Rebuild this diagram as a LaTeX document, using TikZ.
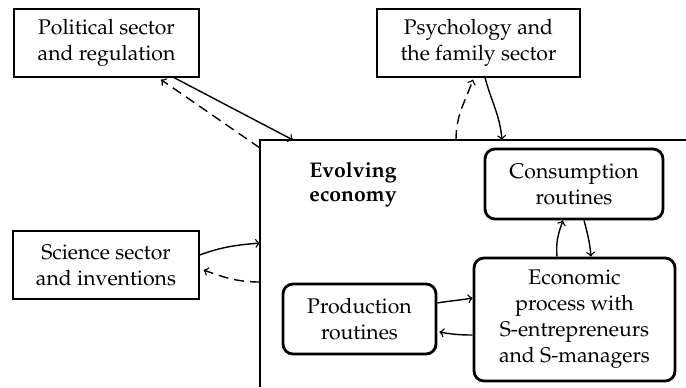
\documentclass[tikz,border=0pt]{standalone}
\usepackage[T1]{fontenc}
\usepackage{mathpazo}
\begin{document}
\begin{tikzpicture}[x=0.5pt,y=-0.5pt,
  every node/.style={font=\fontsize{10.6}{13}\selectfont},
  plainbox/.style={draw,line width=0.6pt,inner sep=0pt,align=center},
  routbox/.style={draw,line width=1.4pt,rounded corners=5pt,inner sep=0pt,align=center},
  conn/.style={line width=0.7pt,->,>=to},
  dconn/.style={conn,dash pattern=on 5pt off 3pt}]
\useasboundingbox (0,0) rectangle (686,387);
% outer boxes
\node[plainbox,minimum width=92.5pt,minimum height=34pt] (pol) at (106.5,43) {Political sector\\and regulation};
\node[plainbox,minimum width=101.5pt,minimum height=34pt] (psy) at (478.5,43) {Psychology and\\the family sector};
\node[plainbox,minimum width=93pt,minimum height=34pt] (sci) at (106,265) {Science sector\\and inventions};
% evolving economy (clipped box)
\coordinate (bbl) at (260,387);
\coordinate (btl) at (260,140);
\coordinate (btr) at (686,140);
\draw[line width=0.6pt] (bbl) -- (btl) -- (btr);
\node[anchor=north west,inner sep=0pt,align=left,font=\fontsize{10.6}{12}\selectfont\bfseries] (evo) at (309,162) {Evolving\\economy};
% inner boxes
\node[routbox,minimum width=76.5pt,minimum height=35pt] (prod) at (359.5,319) {Production\\routines};
\node[routbox,minimum width=89pt,minimum height=35pt] (cons) at (574,184) {Consumption\\routines};
\node[routbox,minimum width=100.5pt,minimum height=61.5pt] (econ) at (574.5,319.5) {Economic\\process with\\S-entrepreneurs\\and S-managers};
% connectors
\draw[conn] ([xshift=33.75pt]pol.south) -- ([xshift=16.5pt]btl);
\draw[dconn] ([yshift=-4pt]btl) -- ([xshift=27.25pt,yshift=-1pt]pol.south);
\draw[dconn] ([xshift=98pt]btl) to[out=90,in=-110] ([xshift=-2.75pt,yshift=-1pt]psy.south);
\draw[conn] ([xshift=3.25pt]psy.south) to[out=-75,in=95] ([xshift=121pt]btl);
\draw[conn] ([yshift=5pt]sci.east) to[out=20,in=185] ([yshift=-51.5pt]btl);
\draw[dconn] ([yshift=-71pt]btl) to[out=180,in=-20] ([xshift=2pt,yshift=-2.5pt]sci.east);
\draw[conn] ([xshift=-8.75pt]econ.north) to[out=95,in=-110] ([xshift=-5.5pt]cons.south);
\draw[conn] ([xshift=5pt]cons.south) to[out=-75,in=95] ([xshift=8.25pt]econ.north);
\draw[conn] ([yshift=8pt]prod.east) to[out=10,in=190] ([yshift=10.75pt]econ.west);
\draw[conn] ([yshift=-7.75pt]econ.west) to[out=180,in=-10] ([xshift=1pt,yshift=-6.5pt]prod.east);
\end{tikzpicture}
\end{document}
